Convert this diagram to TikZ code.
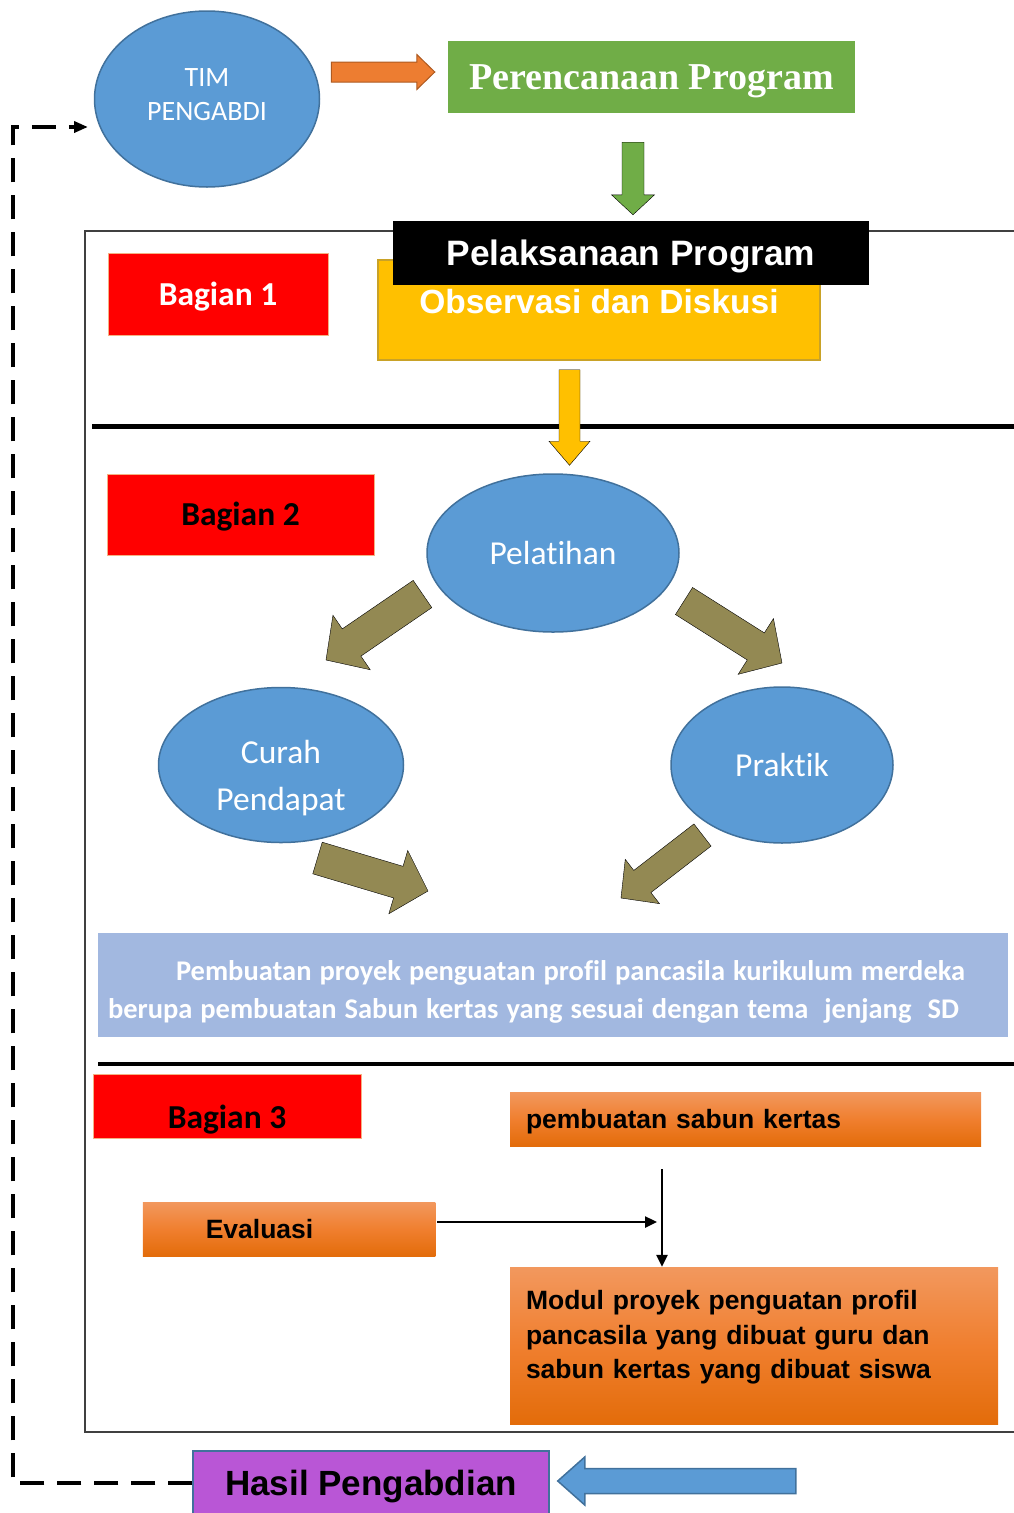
\documentclass[tikz,border=0pt]{standalone}
\usepackage{fontspec}
\setmainfont{Carlito}[Ligatures=NoCommon]
\newfontfamily\arialfam{Liberation Sans}
\newfontfamily\timesfam{Liberation Serif}
\usepackage{xcolor}
\definecolor{bubbleBlue}{HTML}{5B9BD5}
\definecolor{bubbleEdge}{HTML}{41719C}
\definecolor{planGreen}{HTML}{70AD47}
\definecolor{arrOrange}{HTML}{ED7D31}
\definecolor{arrOrangeEdge}{HTML}{AE5A21}
\definecolor{obsYellow}{HTML}{FFC000}
\definecolor{obsEdge}{HTML}{C9A227}
\definecolor{tagRed}{HTML}{FF0000}
\definecolor{tagEdge}{HTML}{F4B183}
\definecolor{khaki}{HTML}{938953}
\definecolor{projBlue}{HTML}{A2B8E0}
\definecolor{oraTop}{HTML}{F2985E}
\definecolor{oraMid}{HTML}{F07F2F}
\definecolor{oraBot}{HTML}{E36C0A}
\definecolor{resPurple}{HTML}{B956D6}
\usepackage{tikz}
\usetikzlibrary{calc,shapes.geometric,arrows.meta}

% block arrow: style, tail, tip, half shaft, half head, head length
\newcommand\blockarrow[6]{%
  \coordinate (ba-tail) at #2;
  \coordinate (ba-tip) at #3;
  \coordinate (ba-base) at ($(ba-tip)!#6pt!(ba-tail)$);
  \draw[#1] ($(ba-tail)!#4pt!90:(ba-tip)$) -- ($(ba-base)!#4pt!90:(ba-tip)$)
    -- ($(ba-base)!#5pt!90:(ba-tip)$) -- (ba-tip)
    -- ($(ba-base)!#5pt!-90:(ba-tip)$) -- ($(ba-base)!#4pt!-90:(ba-tip)$)
    -- ($(ba-tail)!#4pt!-90:(ba-tip)$) -- cycle;
}
\newcommand\projspaces{\spaceskip=8pt\relax}

\begin{document}
\begin{tikzpicture}[x=1pt, y=-1pt, >={Triangle[length=12pt,width=11pt]},
  bubble/.style={ellipse, draw=bubbleEdge, line width=1.5pt, fill=bubbleBlue, inner sep=0pt,
    text=white, align=center, font=\fontsize{33.5}{47}\selectfont},
  tag/.style={fill=tagRed, draw=tagEdge, line width=1pt, text height=22pt, text depth=0pt,
    font=\bfseries\fontsize{33.5}{40}\selectfont},
  ora/.style={top color=oraTop, bottom color=oraBot, middle color=oraMid, inner xsep=16pt,
    align=left, font=\arialfam\bfseries\fontsize{26.5}{34.5}\selectfont},
  solidarrow/.style={line width=2.5pt, ->},
  feedback/.style={line width=3.5pt, dash pattern=on 24pt off 13pt, -{Triangle[length=14pt,width=11pt]}},
  frameline/.style={draw=black!75, line width=1.5pt},
  sepline/.style={line width=5pt}]
  \useasboundingbox (0,0) rectangle (1014,1513);
  % ------- top: team and planning -------
  \node[bubble, minimum width=225pt, minimum height=176pt, text width=130pt,
    text height=20pt, text depth=46pt, font=\fontsize{28}{34}\selectfont] (tim) at (207,99) {TIM\\PENGABDI};
  \node[fill=planGreen, minimum width=407pt, minimum height=72pt, text=white, text height=24.5pt, text depth=0pt,
    font=\timesfam\bfseries\fontsize{38}{44}\selectfont] (plan) at (651.5,77) {Perencanaan Program};
  \blockarrow{fill=arrOrange, draw=arrOrangeEdge, line width=1pt}{($(tim.east)+(11,-27)$)}{($(plan.west)+(-13,-5)$)}{10}{17.5}{18}
  % ------- frame: Bagian 1 -------
  \draw[frameline] (85,231) rectangle (1030,1432);
  \node[fill=obsYellow, draw=obsEdge, line width=1.5pt, minimum width=442pt, minimum height=100pt, text=white,
    text height=31pt, text depth=25pt, font=\arialfam\bfseries\fontsize{33.5}{40}\selectfont] (obs) at (599,310) {Observasi dan Diskusi};
  \node[fill=black, minimum width=476pt, minimum height=64pt, text=white, text height=25.5pt, text depth=0pt,
    font=\arialfam\bfseries\fontsize{35.3}{42}\selectfont] (exec) at (631,253) {Pelaksanaan Program};
  \blockarrow{fill=planGreen}{($(plan.south)+(-18.5,29)$)}{($(exec.north)+(2,-6)$)}{11}{21.5}{20}
  \node[tag, text=white, minimum width=220pt, minimum height=82pt] (part1) at (218,294) {Bagian 1};
  \draw[sepline] (92,426) -- (1014,426);
  % ------- Bagian 2 -------
  \node[tag, minimum width=267pt, minimum height=81pt] (part2) at (240.5,514.5) {Bagian 2};
  \node[bubble, minimum width=252pt, minimum height=158pt] (pelatihan) at (553,553) {Pelatihan};
  \node[bubble, minimum width=245pt, minimum height=155pt, text width=135pt,
    text height=25pt, text depth=29pt] (curah) at (281,765) {Curah\\Pendapat};
  \node[bubble, minimum width=222pt, minimum height=156pt] (praktik) at (782,765) {Praktik};
  \blockarrow{fill=obsYellow}{($(obs.south)+(-29.5,9)$)}{($(pelatihan.north)+(16.5,-8)$)}{10.5}{20.5}{24}
  \node[fill=projBlue, text=white, inner xsep=10pt, text width=890pt, minimum height=104pt, align=left,
    text height=20pt, text depth=30pt, font=\bfseries\fontsize{28.5}{38}\selectfont] (proyek) at (553,985)
    {\projspaces\hspace*{68pt}Pembuatan proyek penguatan profil pancasila kurikulum merdeka\\
     berupa pembuatan Sabun kertas yang sesuai dengan tema\ \ jenjang\ \ SD};
  \blockarrow{fill=khaki}{($(pelatihan)+(-130.5,41)$)}{($(curah)+(45,-105)$)}{16.5}{33}{31}
  \blockarrow{fill=khaki}{($(pelatihan)+(131,48)$)}{($(praktik)+(0,-102)$)}{16}{33}{31}
  \blockarrow{fill=khaki}{($(curah)+(36.5,93)$)}{($(proyek)+(-125,-94)$)}{16.5}{33}{31}
  \blockarrow{fill=khaki}{($(praktik)+(-79.5,70)$)}{($(proyek)+(68,-87)$)}{14}{28}{27}
  \draw[sepline, line width=4pt] (98,1064) -- (1014,1064);
  % ------- Bagian 3 -------
  \node[tag, minimum width=268pt, minimum height=62pt, text height=50pt, text depth=7pt] (part3) at (227,1106.5) {Bagian 3};
  \node[ora, text width=439pt, minimum height=54pt, text height=19pt, text depth=0pt] (sabun) at (745.5,1119) {pembuatan sabun kertas};
  \node[ora, inner xsep=63pt, text width=166.5pt, minimum height=54pt] (evaluasi) at (289,1229) {Evaluasi};
  \node[ora, text width=456pt, minimum height=157pt, text height=20pt, text depth=92pt] (modul) at (754,1345.5)
    {Modul proyek penguatan profil\\pancasila yang dibuat guru dan\\sabun kertas yang dibuat siswa};
  \coordinate (drop) at (662,1169);
  \draw[solidarrow] (drop) -- (drop |- modul.north);
  \draw[solidarrow] ($(evaluasi.east)+(2,-7)$) -- ($(drop |- evaluasi.east)+(-5,-7)$);
  % ------- result and feedback -------
  \node[fill=resPurple, draw=bubbleEdge, line width=1.5pt, minimum width=356pt, minimum height=64pt,
    text height=25pt, text depth=0pt, font=\arialfam\bfseries\fontsize{35}{42}\selectfont] (hasil) at (371,1483) {Hasil Pengabdian};
  \blockarrow{fill=bubbleBlue, draw=bubbleEdge, line width=1.5pt}{($(hasil.east)+(246,-2)$)}{($(hasil.east)+(8,-2)$)}{12.5}{24}{27}
  \coordinate (backTop) at (13,127);
  \coordinate (timIn) at (88,127);
  \draw[feedback] (hasil.west) -| (backTop) -- (timIn);
\end{tikzpicture}
\end{document}
